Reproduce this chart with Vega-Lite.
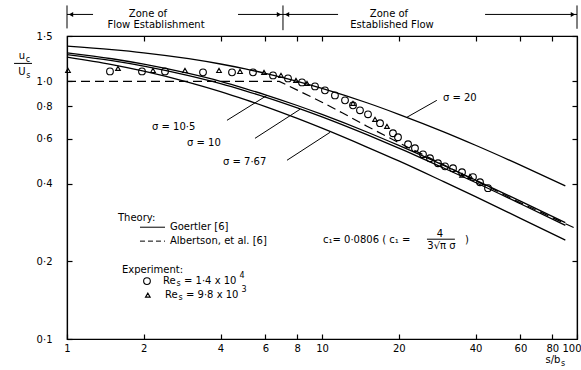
{
  "$schema": "https://vega.github.io/schema/vega-lite/v6.json",
  "width": 510,
  "height": 303,
  "autosize": {"type": "none"},
  "padding": {"left": 67, "top": 36, "right": 4, "bottom": 31},
  "background": "white",
  "config": {
    "view": {"stroke": "black", "strokeWidth": 1.2},
    "font": "DejaVu Sans",
    "text": {"font": "DejaVu Sans", "fontSize": 10, "color": "black"},
    "axis": {"domainColor": "black", "tickColor": "black", "labelColor": "black", "labelFont": "DejaVu Sans", "labelFontSize": 10, "grid": false, "title": null, "tickWidth": 1.2, "domainWidth": 1.2}
  },
  "datasets": {
    "curves": [
      {"s": "20", "x": 1, "y": 1.369}, {"s": "20", "x": 1.5, "y": 1.328}, {"s": "20", "x": 2, "y": 1.291}, {"s": "20", "x": 3, "y": 1.225}, {"s": "20", "x": 4, "y": 1.168}, {"s": "20", "x": 5, "y": 1.118}, {"s": "20", "x": 6, "y": 1.074}, {"s": "20", "x": 8, "y": 1.0}, {"s": "20", "x": 10, "y": 0.939}, {"s": "20", "x": 15, "y": 0.826}, {"s": "20", "x": 20, "y": 0.745}, {"s": "20", "x": 30, "y": 0.637}, {"s": "20", "x": 40, "y": 0.565}, {"s": "20", "x": 60, "y": 0.473}, {"s": "20", "x": 90, "y": 0.393},
      {"s": "10.5", "x": 1, "y": 1.29}, {"s": "10.5", "x": 1.5, "y": 1.224}, {"s": "10.5", "x": 2, "y": 1.166}, {"s": "10.5", "x": 3, "y": 1.073}, {"s": "10.5", "x": 4, "y": 1.0}, {"s": "10.5", "x": 5, "y": 0.938}, {"s": "10.5", "x": 6, "y": 0.887}, {"s": "10.5", "x": 8, "y": 0.806}, {"s": "10.5", "x": 10, "y": 0.744}, {"s": "10.5", "x": 15, "y": 0.636}, {"s": "10.5", "x": 20, "y": 0.564}, {"s": "10.5", "x": 30, "y": 0.472}, {"s": "10.5", "x": 40, "y": 0.414}, {"s": "10.5", "x": 60, "y": 0.343}, {"s": "10.5", "x": 90, "y": 0.283},
      {"s": "10", "x": 1, "y": 1.27}, {"s": "10", "x": 1.5, "y": 1.203}, {"s": "10", "x": 2, "y": 1.146}, {"s": "10", "x": 3, "y": 1.053}, {"s": "10", "x": 4, "y": 0.98}, {"s": "10", "x": 5, "y": 0.919}, {"s": "10", "x": 6, "y": 0.869}, {"s": "10", "x": 8, "y": 0.789}, {"s": "10", "x": 10, "y": 0.728}, {"s": "10", "x": 15, "y": 0.621}, {"s": "10", "x": 20, "y": 0.551}, {"s": "10", "x": 30, "y": 0.461}, {"s": "10", "x": 40, "y": 0.405}, {"s": "10", "x": 60, "y": 0.335}, {"s": "10", "x": 90, "y": 0.276},
      {"s": "7.67", "x": 1, "y": 1.241}, {"s": "7.67", "x": 1.5, "y": 1.161}, {"s": "7.67", "x": 2, "y": 1.095}, {"s": "7.67", "x": 3, "y": 0.991}, {"s": "7.67", "x": 4, "y": 0.912}, {"s": "7.67", "x": 5, "y": 0.849}, {"s": "7.67", "x": 6, "y": 0.798}, {"s": "7.67", "x": 8, "y": 0.718}, {"s": "7.67", "x": 10, "y": 0.658}, {"s": "7.67", "x": 15, "y": 0.556}, {"s": "7.67", "x": 20, "y": 0.491}, {"s": "7.67", "x": 30, "y": 0.408}, {"s": "7.67", "x": 40, "y": 0.357}, {"s": "7.67", "x": 60, "y": 0.294}, {"s": "7.67", "x": 90, "y": 0.242}
    ],
    "albertson": [
      {"x": 1, "y": 1.0}, {"x": 6.8, "y": 1.0}, {"x": 8, "y": 0.925}, {"x": 10, "y": 0.83}, {"x": 12, "y": 0.755}, {"x": 15, "y": 0.67}, {"x": 20, "y": 0.578}, {"x": 30, "y": 0.474}, {"x": 40, "y": 0.412}, {"x": 60, "y": 0.338}, {"x": 100, "y": 0.267}
    ],
    "circles": [
      {"x": 1.474, "y": 1.093}, {"x": 1.968, "y": 1.093}, {"x": 2.423, "y": 1.093}, {"x": 3.415, "y": 1.084}, {"x": 4.437, "y": 1.084}, {"x": 5.362, "y": 1.084}, {"x": 6.425, "y": 1.055}, {"x": 7.356, "y": 1.027}, {"x": 8.348, "y": 0.991}, {"x": 9.387, "y": 0.956}, {"x": 10.27, "y": 0.923}, {"x": 11.24, "y": 0.882}, {"x": 12.31, "y": 0.844}, {"x": 13.23, "y": 0.807}, {"x": 14.09, "y": 0.772}, {"x": 15.15, "y": 0.745}, {"x": 16.89, "y": 0.688}, {"x": 18.98, "y": 0.629}, {"x": 19.86, "y": 0.607}, {"x": 21.75, "y": 0.57}, {"x": 23.15, "y": 0.55}, {"x": 24.89, "y": 0.521}, {"x": 26.51, "y": 0.503}, {"x": 28.5, "y": 0.481}, {"x": 30.37, "y": 0.468}, {"x": 32.64, "y": 0.46}, {"x": 35.4, "y": 0.444}, {"x": 39.09, "y": 0.425}, {"x": 41.65, "y": 0.406}, {"x": 44.77, "y": 0.385},
      {"x": 2.059, "y": 0.1678}
    ],
    "triangles": [
      {"x": 1.009, "y": 1.103}, {"x": 1.585, "y": 1.123}, {"x": 2.174, "y": 1.103}, {"x": 2.902, "y": 1.103}, {"x": 3.946, "y": 1.103}, {"x": 4.77, "y": 1.093}, {"x": 5.924, "y": 1.084}, {"x": 6.906, "y": 1.055}, {"x": 7.907, "y": 1.009}, {"x": 8.733, "y": 0.982}, {"x": 13.23, "y": 0.822}, {"x": 16.14, "y": 0.712}, {"x": 17.98, "y": 0.669}, {"x": 35.4, "y": 0.432}, {"x": 38.05, "y": 0.428},
      {"x": 2.075, "y": 0.148}
    ],
    "rules": [
      {"x": 4.24, "y": 0.706, "x2": 6.085, "y2": 0.882},
      {"x": 5.46, "y": 0.601, "x2": 8.2, "y2": 0.779},
      {"x": 7.29, "y": 0.494, "x2": 10.75, "y2": 0.634},
      {"x": 28.2, "y": 0.844, "x2": 21.5, "y2": 0.725},
      {"x": 1.933, "y": 0.2716, "x2": 2.423, "y2": 0.2716},
      {"x": 0.62, "y": 1.174, "x2": 0.729, "y2": 1.174},
      {"x": 25.8, "y": 0.244, "x2": 33.2, "y2": 0.244},
      {"x": 1.0, "y": 1.819, "x2": 1.265, "y2": 1.819},
      {"x": 4.685, "y": 1.819, "x2": 7.03, "y2": 1.819},
      {"x": 7.03, "y": 1.819, "x2": 11.56, "y2": 1.819},
      {"x": 43.6, "y": 1.819, "x2": 100, "y2": 1.819},
      {"x": 1.0, "y": 1.605, "x2": 1.0, "y2": 1.971},
      {"x": 7.03, "y": 1.58, "x2": 7.03, "y2": 1.971},
      {"x": 100, "y": 1.6, "x2": 100, "y2": 1.971}
    ],
    "dashrules": [
      {"x": 1.933, "y": 0.2398, "x2": 2.423, "y2": 0.2398}
    ],
    "arrowsL": [{"x": 1.037, "y": 1.819}, {"x": 7.29, "y": 1.819}],
    "arrowsR": [{"x": 6.78, "y": 1.819}, {"x": 96.4, "y": 1.819}],
    "leftText": [
      {"x": 1.585, "y": 0.294, "t": "Theory:"},
      {"x": 2.534, "y": 0.2716, "t": "Goertler [6]"},
      {"x": 2.534, "y": 0.2398, "t": "Albertson, et al. [6]"},
      {"x": 1.643, "y": 0.185, "t": "Experiment:"},
      {"x": 2.379, "y": 0.1678, "t": "Re"},
      {"x": 2.876, "y": 0.1678, "t": "= 1·4 x 10"},
      {"x": 2.423, "y": 0.148, "t": "Re"},
      {"x": 2.929, "y": 0.148, "t": "= 9·8 x 10"},
      {"x": 10.09, "y": 0.2419, "t": "c₁= 0·0806  ( c₁ ="},
      {"x": 36.4, "y": 0.2419, "t": ")"},
      {"x": 2.154, "y": 0.663, "t": "σ = 10·5"},
      {"x": 2.955, "y": 0.575, "t": "σ = 10"},
      {"x": 4.09, "y": 0.485, "t": "σ = 7·67"},
      {"x": 29.8, "y": 0.859, "t": "σ = 20"}
    ],
    "centerText": [
      {"x": 2.078, "y": 1.834, "t": "Zone  of"},
      {"x": 2.234, "y": 1.649, "t": "Flow  Establishment"},
      {"x": 18.31, "y": 1.834, "t": "Zone  of"},
      {"x": 18.82, "y": 1.649, "t": "Established  Flow"},
      {"x": 29.0, "y": 0.256, "t": "4"},
      {"x": 29.4, "y": 0.2293, "t": "3√π σ"},
      {"x": 0.666, "y": 1.25, "t": "u"},
      {"x": 0.666, "y": 1.084, "t": "U"},
      {"x": 80.5, "y": 0.0829, "t": "s/b"}
    ],
    "smallText": [
      {"x": 0.703, "y": 1.215, "t": "c"},
      {"x": 0.706, "y": 1.046, "t": "s"},
      {"x": 88.1, "y": 0.08, "t": "s"},
      {"x": 2.739, "y": 0.1633, "t": "s"},
      {"x": 4.857, "y": 0.1754, "t": "4"},
      {"x": 2.79, "y": 0.1442, "t": "s"},
      {"x": 4.944, "y": 0.1548, "t": "3"}
    ]
  },
  "layer": [
    {
      "encoding": {
        "x": {"field": "x", "type": "quantitative", "scale": {"type": "log", "domain": [1, 100], "nice": false},
          "axis": {"orient": "bottom", "values": [1, 2, 4, 6, 8, 10, 20, 40, 60, 80, 100], "labelExpr": "format(datum.value, 'd')", "tickSize": -5, "labelPadding": 9, "labelFlush": false, "labelOverlap": false,
            "labelAlign": {"condition": {"test": "datum.value == 100", "value": "right"}, "value": "center"},
            "labelOffset": {"condition": {"test": "datum.value == 100", "value": 4}, "value": 0}}},
        "y": {"field": "y", "type": "quantitative", "scale": {"type": "log", "domain": [0.1, 1.5], "nice": false},
          "axis": {"orient": "left", "values": [0.1, 0.2, 0.4, 0.6, 0.8, 1, 1.5], "labelExpr": "replace(format(datum.value, '.1f'), '.', '·')", "tickSize": -5, "labelPadding": 20, "labelFlush": false, "labelOverlap": false}}
      },
      "layer": [
        {"data": {"name": "curves"}, "mark": {"type": "line", "color": "black", "strokeWidth": 1.3, "interpolate": "monotone"}, "encoding": {"detail": {"field": "s", "type": "nominal"}}},
        {"data": {"name": "albertson"}, "mark": {"type": "line", "color": "black", "strokeWidth": 1.2, "strokeDash": [9, 5]}, "encoding": {}},
        {"data": {"name": "circles"}, "mark": {"type": "point", "shape": "circle", "filled": false, "color": "black", "size": 45, "strokeWidth": 1.1, "opacity": 1}, "encoding": {}},
        {"data": {"name": "triangles"}, "mark": {"type": "point", "shape": "triangle-up", "filled": false, "color": "black", "size": 22, "strokeWidth": 1.1, "opacity": 1}, "encoding": {}},
        {"data": {"name": "rules"}, "mark": {"type": "rule", "color": "black", "strokeWidth": 1}, "encoding": {"x2": {"field": "x2"}, "y2": {"field": "y2"}}},
        {"data": {"name": "dashrules"}, "mark": {"type": "rule", "color": "black", "strokeWidth": 1, "strokeDash": [5, 3]}, "encoding": {"x2": {"field": "x2"}, "y2": {"field": "y2"}}},
        {"data": {"name": "arrowsL"}, "mark": {"type": "point", "shape": "triangle-left", "filled": true, "color": "black", "size": 25, "opacity": 1}, "encoding": {}},
        {"data": {"name": "arrowsR"}, "mark": {"type": "point", "shape": "triangle-right", "filled": true, "color": "black", "size": 25, "opacity": 1}, "encoding": {}},
        {"data": {"name": "leftText"}, "mark": {"type": "text", "align": "left", "baseline": "middle"}, "encoding": {"text": {"field": "t"}}},
        {"data": {"name": "centerText"}, "mark": {"type": "text", "align": "center", "baseline": "middle"}, "encoding": {"text": {"field": "t"}}},
        {"data": {"name": "smallText"}, "mark": {"type": "text", "align": "center", "baseline": "middle", "fontSize": 8}, "encoding": {"text": {"field": "t"}}}
      ]
    },
    {
      "data": {"name": "curves"},
      "mark": {"type": "point", "opacity": 0},
      "encoding": {
        "x": {"field": "x", "type": "quantitative", "scale": {"type": "log", "domain": [1, 100], "nice": false},
          "axis": {"orient": "top", "values": [2, 4, 6, 8, 10, 20, 40, 60, 80], "labels": false, "tickSize": -5}},
        "y": {"field": "y", "type": "quantitative", "scale": {"type": "log", "domain": [0.1, 1.5], "nice": false},
          "axis": {"orient": "right", "values": [0.2, 0.4, 0.6, 0.8, 1, 1.5], "labels": false, "tickSize": -5}}
      }
    }
  ],
  "resolve": {"axis": {"x": "independent", "y": "independent"}}
}
